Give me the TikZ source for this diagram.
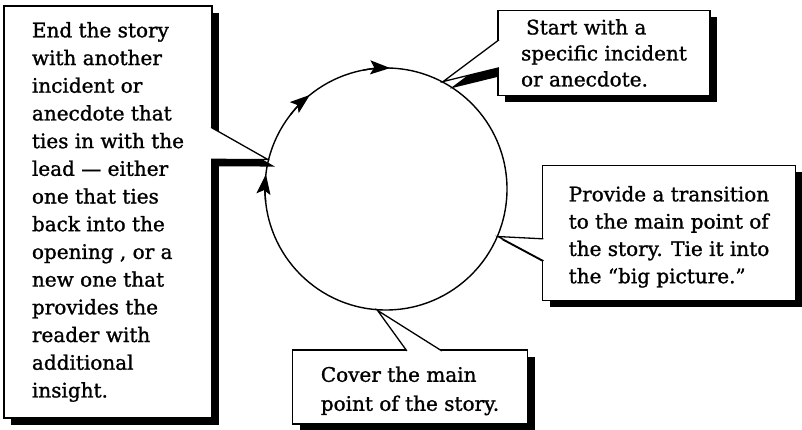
\documentclass[tikz,border=0pt]{standalone}
\usepackage{fontspec}
\setmainfont{DejaVu Serif}[FakeBold=1.2]
\usetikzlibrary{shadows,arrows.meta,backgrounds}

\begin{document}
\begin{tikzpicture}[x=1pt,y=1pt,
    callbox/.style={draw,line width=1.3pt,fill=white,align=left,inner sep=0pt,
      drop shadow={opacity=1,fill=black,shadow xshift=7pt,shadow yshift=-7pt}},
    pointer/.style={fill=white,line width=1.3pt},
    ring/.style={draw,circle,line width=1.4pt,minimum size=242pt,inner sep=0pt},
    dirarrow/.style={line width=1.4pt,-{Stealth[length=20pt,width=14pt,inset=4pt]}}]
  \useasboundingbox (0,0) rectangle (802,430);
  \node[ring] (cyc) at (386,241) {};
  \node[callbox,minimum width=208pt,minimum height=412pt,
    font=\fontsize{20pt}{27.7pt}\selectfont] (ending) at (108,218)
    {End the story\\with another\\incident or\\anecdote that\\ties in with the\\
     lead --- either\\one that ties\\back into the\\opening , or a\\new one that\\
     provides the\\reader with\\additional\\insight.};
  \node[callbox,minimum width=212pt,minimum height=85pt,
    font=\fontsize{20pt}{26pt}\selectfont] (start) at (604,377)
    {\hspace*{5pt}Start with a\\specific incident\\or anecdote.};
  \node[callbox,minimum width=253pt,minimum height=135pt,
    font=\fontsize{20pt}{27.3pt}\selectfont] (bridge) at (669,197)
    {\rule{0pt}{23pt}Provide a transition\\to the main point of\\the story. Tie it into\\the ``big picture.''};
  \node[callbox,minimum width=235pt,minimum height=74pt,
    font=\fontsize{20pt}{29pt}\selectfont] (body) at (410,43)
    {\rule{0pt}{23pt}Cover the main\\point of the story.};
  \coordinate (ending-a) at ([shift={(-1.6,-122)}]ending.north east);
  \coordinate (ending-b) at ([shift={(-1.6,-154)}]ending.north east);
  \coordinate (start-a) at ([shift={(1.6,-30)}]start.north west);
  \coordinate (start-b) at ([shift={(1.6,-58)}]start.north west);
  \coordinate (bridge-a) at ([shift={(1.6,-74)}]bridge.north west);
  \coordinate (bridge-b) at ([shift={(1.6,-96)}]bridge.north west);
  \coordinate (body-a) at ([shift={(115,-1.6)}]body.north west);
  \coordinate (body-b) at ([shift={(150,-1.6)}]body.north west);
  \begin{scope}[on background layer]
    \foreach \nb/\tip/\d in {ending/cyc.166/7,start/cyc.62/7,bridge/cyc.337/3}
      \fill ([shift={(\d,-\d)}]\nb-a) -- ([shift={(\d,-\d)}]\tip) -- ([shift={(\d,-\d)}]\nb-b) -- cycle;
  \end{scope}
  \foreach \nb/\tip in {ending/cyc.166,start/cyc.62,bridge/cyc.337,body/cyc.266}
    \filldraw[pointer] (\nb-a) -- (\tip) -- (\nb-b);
  \draw[dirarrow] (cyc.center) ++(186:121) arc[start angle=186,end angle=173,radius=121];
  \draw[dirarrow] (cyc.center) ++(142:121) arc[start angle=142,end angle=129,radius=121];
  \draw[dirarrow] (cyc.center) ++(101:121) arc[start angle=101,end angle=88,radius=121];
\end{tikzpicture}
\end{document}
